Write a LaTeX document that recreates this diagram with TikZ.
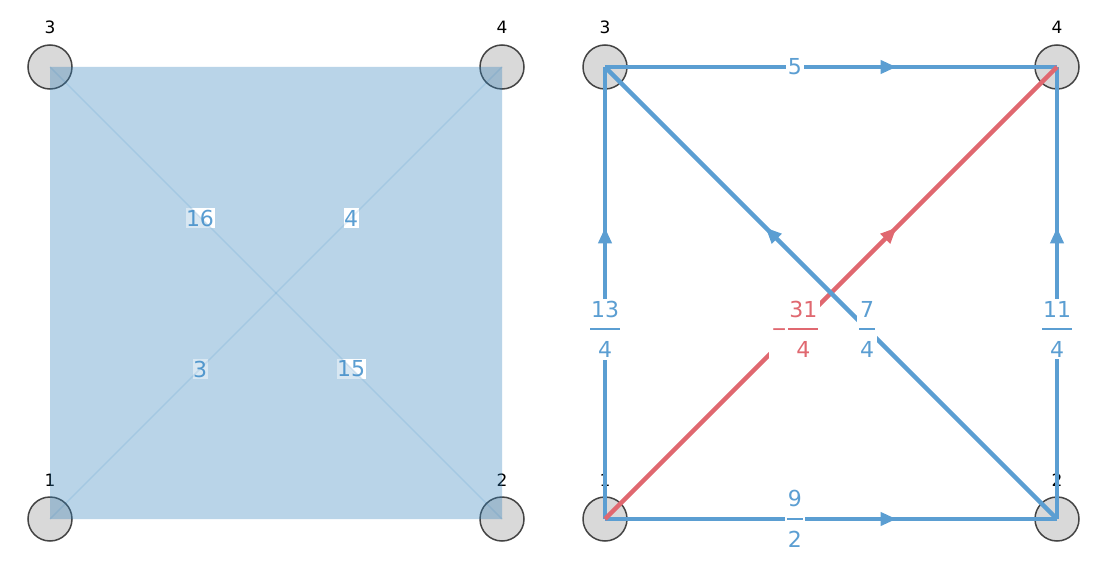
\documentclass[tikz,border=0pt]{standalone}
\usepackage{fontspec}
\setmainfont{DejaVu Sans}
\usetikzlibrary{arrows.meta,decorations.markings}
\definecolor{eblue}{RGB}{91,158,210}
\definecolor{ered}{RGB}{224,104,112}
\definecolor{sqblue}{RGB}{49,130,189}
\definecolor{ngray}{RGB}{217,217,217}
\definecolor{nedge}{RGB}{68,68,68}
\newcommand\fr[2]{\setbox0=\hbox{#1}\setbox2=\hbox{#2}%
\dimen0=\wd0 \ifdim\wd2>\dimen0 \dimen0=\wd2 \fi\advance\dimen0 by 2pt
\vbox{\hbox to\dimen0{\hfil\box0\hfil}\kern11pt\hrule height2pt\kern11pt\hbox to\dimen0{\hfil\box2\hfil}}}
\newcommand\negfr[2]{\raisebox{21pt}{\scalebox{0.85}[1]{−}}\kern1.5pt\fr{#1}{#2}}
\begin{document}
\begin{tikzpicture}[x=1pt,y=-1pt,
  vtx/.style={circle,minimum size=44pt,inner sep=0pt,fill=ngray,draw=nedge,line width=1.5pt},
  vlab/.style={font=\fontsize{17}{20}\selectfont,text=black,inner sep=0pt},
  sqlab/.style={font=\fontsize{22}{26}\selectfont,text=eblue,fill=white,inner xsep=0.5pt,inner ysep=2pt},
  elab/.style={font=\fontsize{22}{26}\selectfont,fill=white,inner sep=2pt,pos=0.42},
  tri/.style={fill=sqblue,fill opacity=0.19},
  seam/.style={draw=sqblue,draw opacity=0.12,line width=1.5pt},
  arcb/.style={color=eblue,line width=4.5pt,postaction={decorate},
    decoration={markings,mark=at position 0.645 with {\arrow{Triangle[length=16pt,width=13pt]}}}},
  arcr/.style={arcb,color=ered}
]
\useasboundingbox (0,0) rectangle (1110,572);
% ---------- left panel ----------
\node[vtx] (l1) at (50,519) {};
\node[vtx] (l2) at (502,519) {};
\node[vtx] (l3) at (50,67) {};
\node[vtx] (l4) at (502,67) {};
\node[vlab] (ll1) at (50,480) {1};
\node[vlab] (ll2) at (502,480) {2};
\node[vlab] (ll3) at (50,27) {3};
\node[vlab] (ll4) at (502,27) {4};
\fill[tri] (l1.center) -- (l2.center) -- (l4.center) -- cycle;
\fill[tri] (l1.center) -- (l3.center) -- (l4.center) -- cycle;
\fill[tri] (l3.center) -- (l4.center) -- (l2.center) -- cycle;
\node[sqlab] (s16) at (200,218) {16};
\node[sqlab] (s4) at (351,218) {4};
\node[sqlab] (s3) at (200,369) {3};
\node[sqlab] (s15) at (351,369) {15};
\fill[tri] (l3.center) -- (l1.center) -- (l2.center) -- cycle;
\draw[seam] (l3.center) -- (l2.center);
\draw[seam] (l1.center) -- (l4.center);
% ---------- right panel ----------
\node[vtx] (r1) at (605,519) {};
\node[vtx] (r2) at (1057,519) {};
\node[vtx] (r3) at (605,67) {};
\node[vtx] (r4) at (1057,67) {};
\node[vlab] (rl1) at (605,480) {1};
\node[vlab] (rl2) at (1057,480) {2};
\node[vlab] (rl3) at (605,27) {3};
\node[vlab] (rl4) at (1057,27) {4};
\draw[arcb] (r1.center) -- (r3.center) node[elab,text=eblue] (e13) {\fr{13}{4}};
\draw[arcb] (r1.center) -- (r2.center) node[elab,text=eblue] (e12) {\fr{9}{2}};
\draw[arcb] (r2.center) -- (r4.center) node[elab,text=eblue] (e24) {\fr{11}{4}};
\draw[arcb] (r3.center) -- (r4.center) node[elab,text=eblue] (e34) {5};
\draw[arcr] (r1.center) -- (r4.center) node[elab,text=ered] (e14) {\negfr{31}{4}};
\draw[arcb] (r2.center) -- (r3.center) node[elab,text=eblue] (e23) {\fr{7}{4}};
\end{tikzpicture}
\end{document}
